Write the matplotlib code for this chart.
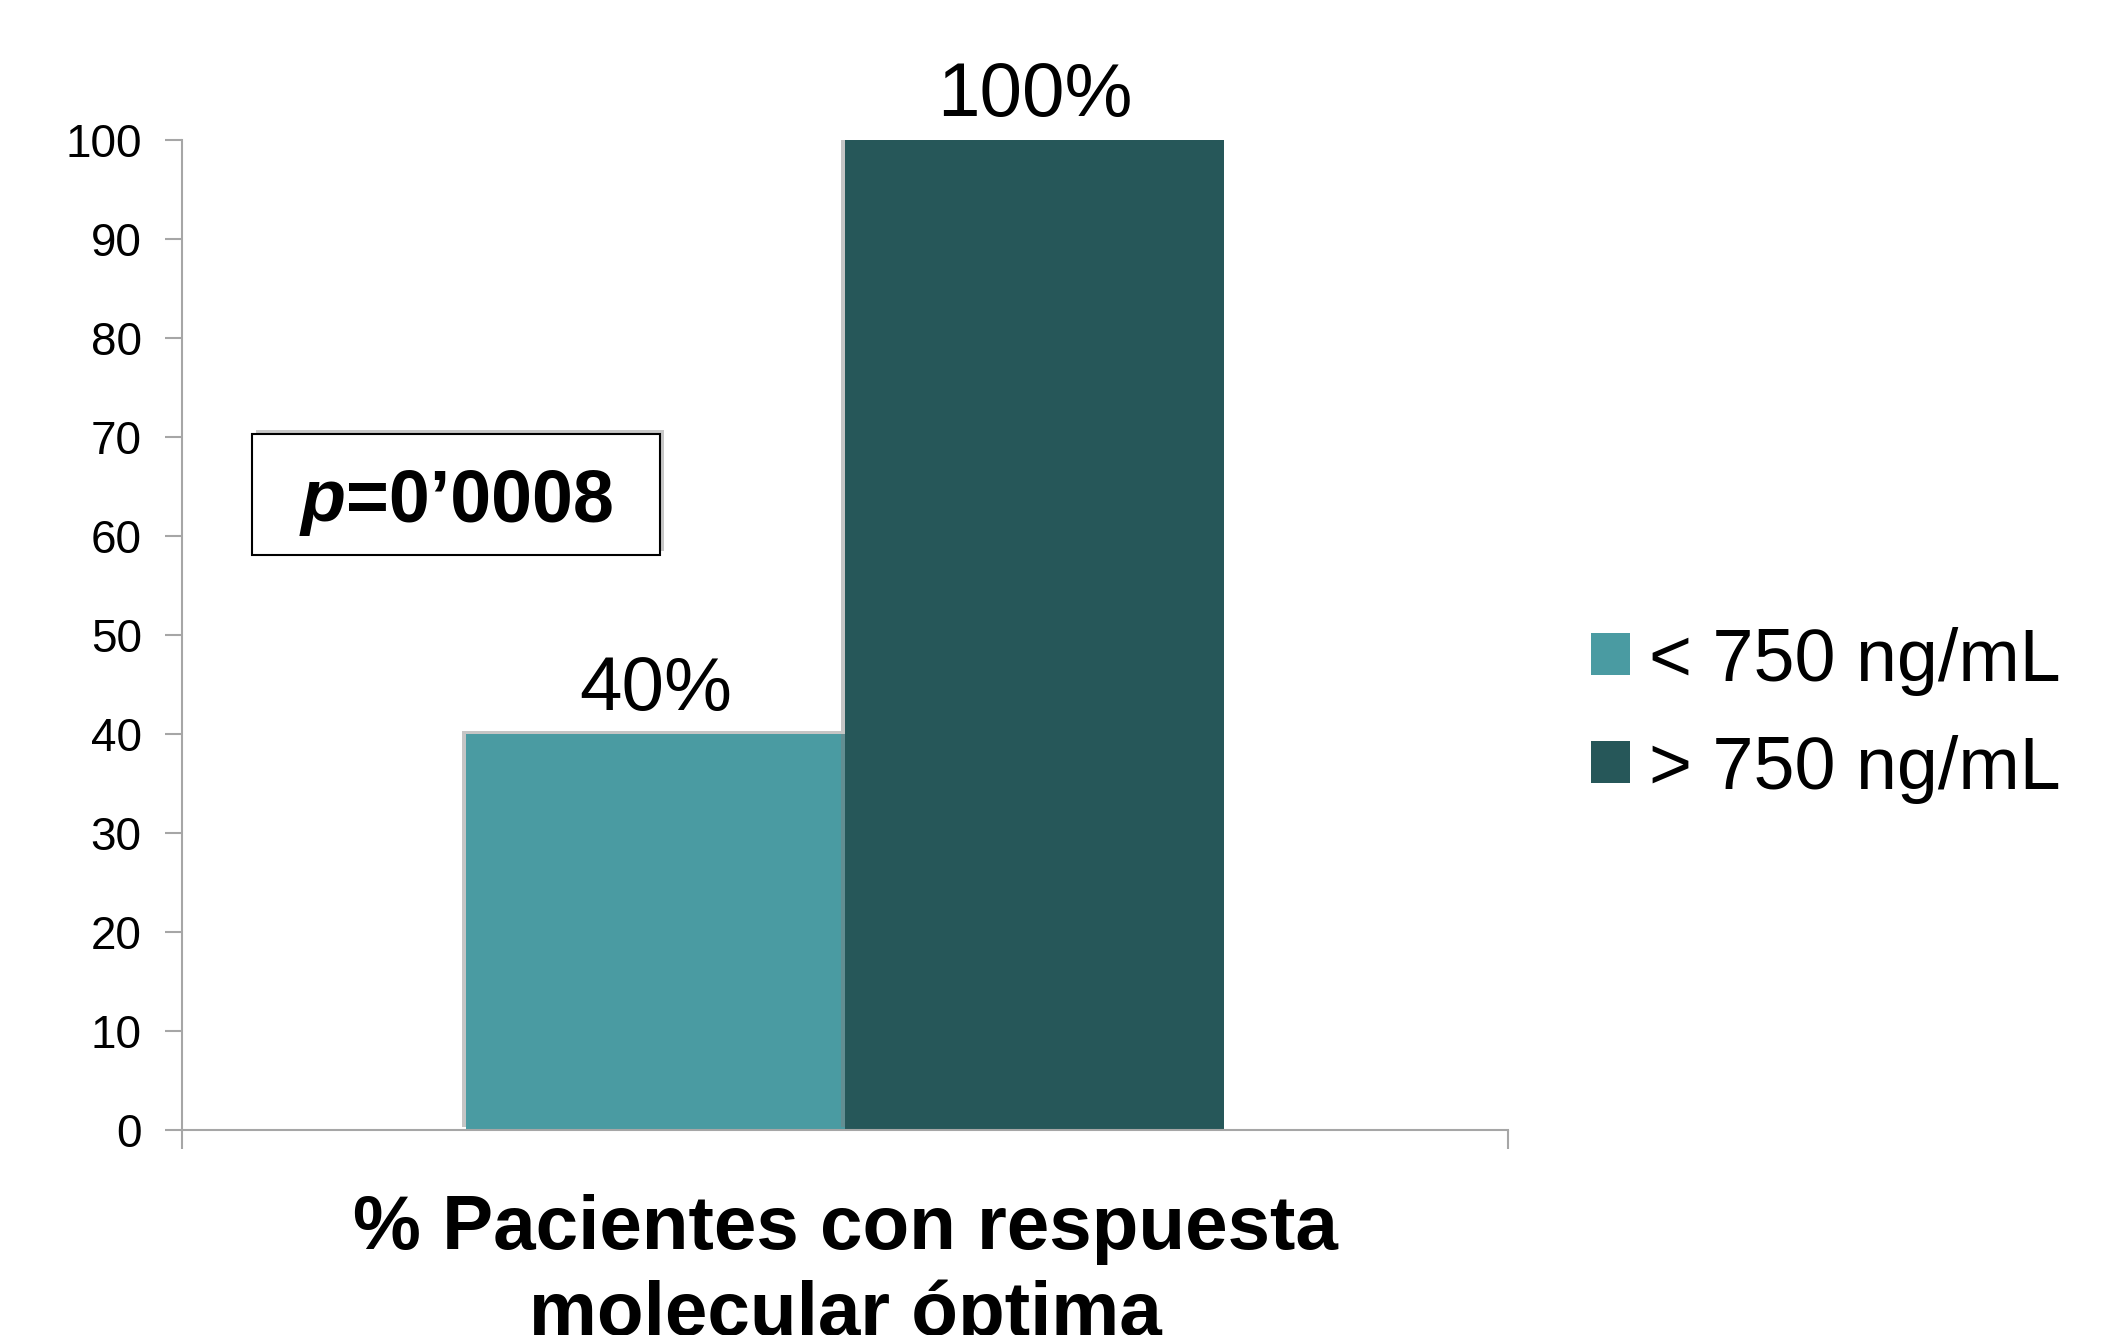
import numpy as np
import matplotlib
matplotlib.use('Agg')
import matplotlib.pyplot as plt
import matplotlib.patheffects as pe
from matplotlib.patches import Rectangle

# data
categories = ['% Pacientes con respuesta\nmolecular óptima']
groups = ['< 750 ng/mL', '> 750 ng/mL']
values_low = [40]
values_high = [100]
bar_labels_low = ['40%']
bar_labels_high = ['100%']
y_ticks = [0, 10, 20, 30, 40, 50, 60, 70, 80, 90, 100]
p_text = '=0\u20190008'

col_low = '#4A9BA2'
col_high = '#265759'
col_axis = '#A6A6A6'

narrow = ['Liberation Sans Narrow', 'Liberation Sans', 'DejaVu Sans']
regular = ['Liberation Sans', 'DejaVu Sans']

fig = plt.figure(figsize=(21.09, 13.35), dpi=100)
ax = fig.add_axes([0.0863, 0.1536, 0.6287, 0.7416])

x = np.arange(len(categories))
w = 0.286
shadow = [pe.SimplePatchShadow(offset=(-3, 2), shadow_rgbFace='#808080', alpha=0.45), pe.Normal()]
b1 = ax.bar(x - w / 2, values_low, w, color=col_low, label=groups[0], path_effects=shadow, zorder=2)
b2 = ax.bar(x + w / 2, values_high, w, color=col_high, label=groups[1], path_effects=shadow, zorder=2)

for bars, labs in [(b1, bar_labels_low), (b2, bar_labels_high)]:
    ax.bar_label(bars, labels=labs, padding=6, fontsize=55, family=narrow)

ax.set_xlim(-0.5, 0.5)
ax.set_ylim(0, 100)
ax.set_yticks(y_ticks)
ax.set_yticklabels([str(v) for v in y_ticks], family=regular, fontsize=33)
ax.tick_params(axis='y', length=12, width=1.5, color=col_axis, pad=17)

# category label on the major tick, boundary ticks as minor ticks
ax.set_xticks(x)
ax.set_xticklabels(categories, family=narrow, fontsize=55, fontweight='bold', linespacing=1.26)
ax.tick_params(axis='x', which='major', length=0, pad=46)
ax.set_xticks([-0.5, 0.5], minor=True)
ax.tick_params(axis='x', which='minor', length=14, width=1.5, color=col_axis)

for s in ['top', 'right']:
    ax.spines[s].set_visible(False)
for s in ['left', 'bottom']:
    ax.spines[s].set_color(col_axis)
    ax.spines[s].set_linewidth(1.5)

# p value box
box = Rectangle((-0.447, 58.1), 0.3075, 12.2, facecolor='white', edgecolor='black', linewidth=1.5, zorder=3,
                path_effects=[pe.SimplePatchShadow(offset=(3, 3), shadow_rgbFace='#909090', alpha=0.5), pe.Normal()])
ax.add_patch(box)
ax.text(-0.3765, 64.2, 'p', ha='right', va='center_baseline', fontsize=53, fontweight='bold', style='italic', family=narrow, zorder=4)
ax.text(-0.3765, 64.2, p_text, ha='left', va='center_baseline', fontsize=53, fontweight='bold', family=narrow, zorder=4)

leg = fig.legend(handles=[b1, b2], labels=groups, loc='center left', bbox_to_anchor=(0.7544, 0.4644),
                 frameon=False, prop={'family': regular, 'size': 53}, handlelength=0.53, handleheight=0.5,
                 handletextpad=0.26, labelspacing=0.53, borderpad=0, borderaxespad=0)
for h in leg.legend_handles:
    h.set_path_effects([])

fig.savefig('out.png', dpi=100)
